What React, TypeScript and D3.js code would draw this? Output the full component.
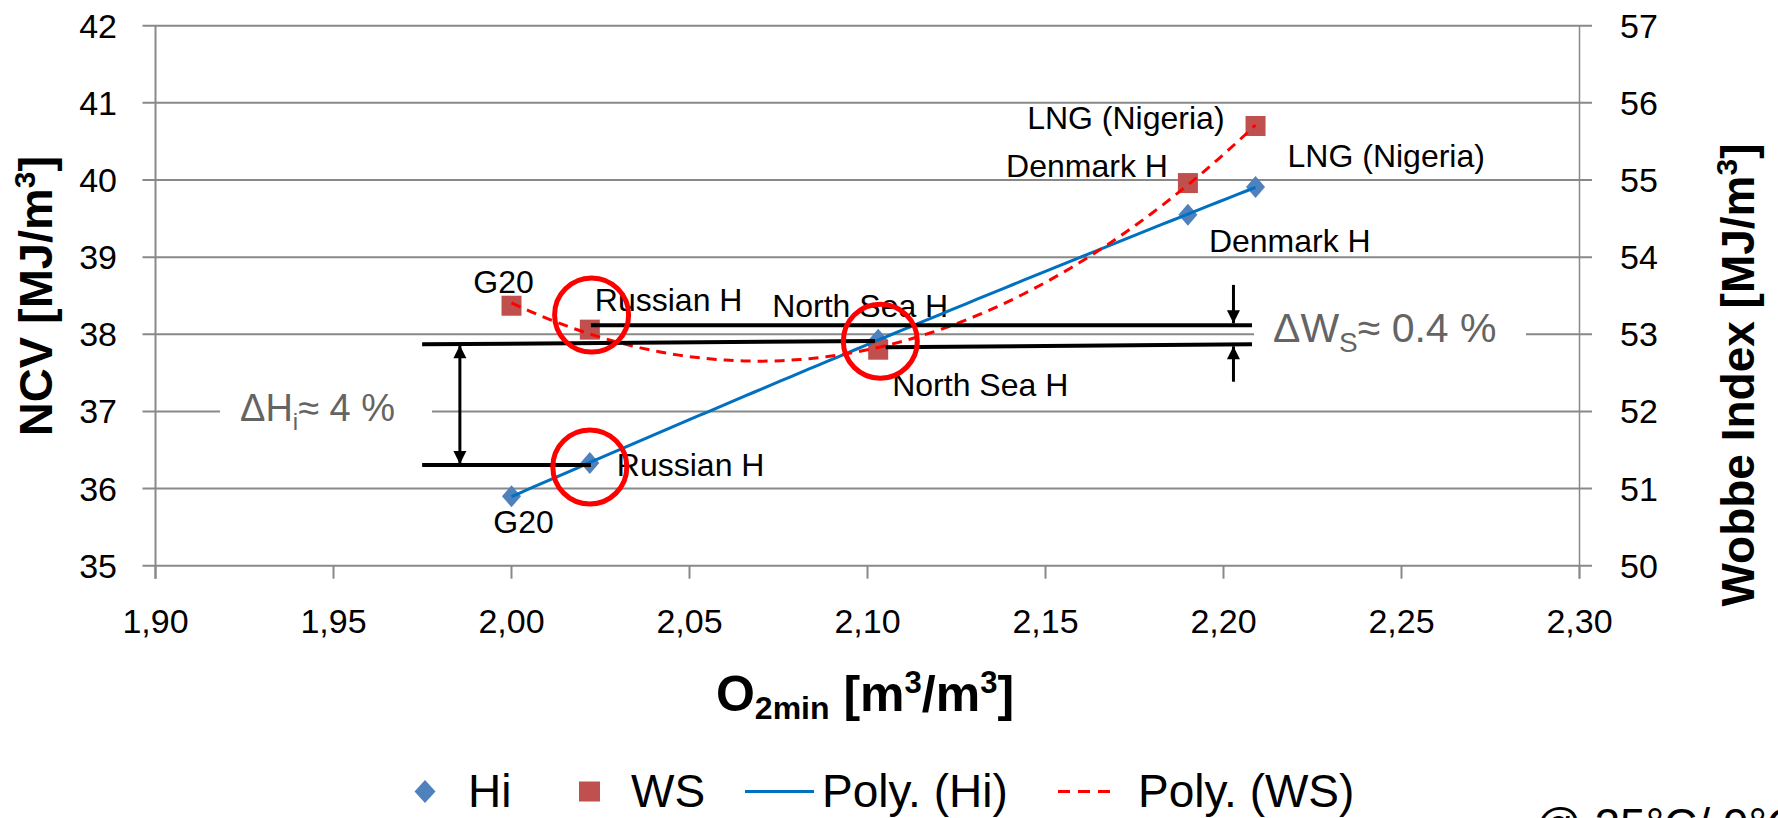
import React from "react";
import * as d3 from "d3";

// Natural gas qualities: minimum oxygen demand vs. NCV (Hi) and Wobbe index (WS)
const gasNames = ["G20", "Russian H", "North Sea H", "Denmark H", "LNG (Nigeria)"];
const o2minValues = [2.0, 2.022, 2.103, 2.19, 2.209];
const hiValues = [35.9, 36.33, 37.93, 39.55, 39.91];
const wsValues = [53.37, 53.06, 52.8, 54.96, 55.7];

const xTickValues = [1.9, 1.95, 2.0, 2.05, 2.1, 2.15, 2.2, 2.25, 2.3];
const ncvTickValues = [35, 36, 37, 38, 39, 40, 41, 42];
const wobbeTickValues = [50, 51, 52, 53, 54, 55, 56, 57];
const legendLabels = ["Hi", "WS", "Poly. (Hi)", "Poly. (WS)"];

// label placement relative to each marker (px)
const hiLabelLayout = [
  { dx: 12, dy: 37, anchor: "middle" },
  { dx: 27, dy: 13, anchor: "start" },
  { dx: -18, dy: -23, anchor: "middle" },
  { dx: 21, dy: 37, anchor: "start" },
  { dx: 32, dy: -20, anchor: "start" },
];
const wsLabelLayout = [
  { dx: -8, dy: -13, anchor: "middle" },
  { dx: 5, dy: -19, anchor: "start" },
  { dx: 14, dy: 46, anchor: "start" },
  { dx: -20, dy: -6, anchor: "end" },
  { dx: -31, dy: 3, anchor: "end" },
];

const W = 1778;
const H = 818;
const FONT = "'Liberation Sans', Arial, sans-serif";
const GRID = "#898989";
const BLUE_MARK = "#4F81BD";
const RED_MARK = "#C0504D";
const BLUE_TREND = "#0070C0";
const RED_TREND = "#FF0000";
const NOTE_GRAY = "#646464";

const x = d3.scaleLinear().domain([1.9, 2.3]).range([155.5, 1579.5]);
const yL = d3.scaleLinear().domain([35, 42]).range([565.7, 25.7]);
const yR = d3.scaleLinear().domain([50, 57]).range([565.7, 25.7]);

// least-squares polynomial of order 2 (Excel "Poly." trendline)
function quadFit(xs: number[], ys: number[]) {
  const mx = d3.mean(xs) as number;
  const u = xs.map((v) => v - mx);
  const n = xs.length;
  let s1 = 0, s2 = 0, s3 = 0, s4 = 0, t0 = 0, t1 = 0, t2 = 0;
  for (let i = 0; i < n; i++) {
    const a = u[i];
    s1 += a; s2 += a * a; s3 += a * a * a; s4 += a * a * a * a;
    t0 += ys[i]; t1 += a * ys[i]; t2 += a * a * ys[i];
  }
  const det = (m: number[][]) =>
    m[0][0] * (m[1][1] * m[2][2] - m[1][2] * m[2][1]) -
    m[0][1] * (m[1][0] * m[2][2] - m[1][2] * m[2][0]) +
    m[0][2] * (m[1][0] * m[2][1] - m[1][1] * m[2][0]);
  const M = [[s4, s3, s2], [s3, s2, s1], [s2, s1, n]];
  const R = [t2, t1, t0];
  const D = det(M);
  const col = (k: number) => M.map((row, i) => row.map((v, j) => (j === k ? R[i] : v)));
  const a = det(col(0)) / D;
  const b = det(col(1)) / D;
  const c = det(col(2)) / D;
  return (v: number) => a * (v - mx) * (v - mx) + b * (v - mx) + c;
}

const fitHi = quadFit(o2minValues, hiValues);
const fitWs = quadFit(o2minValues, wsValues);
const xMin = d3.min(o2minValues) as number;
const xMax = d3.max(o2minValues) as number;
const samples = d3.range(0, 81).map((i) => xMin + ((xMax - xMin) * i) / 80);
const hiTrend = d3.line<number>().x((v) => x(v)).y((v) => yL(fitHi(v)))(samples) || "";
const wsTrend = d3.line<number>().x((v) => x(v)).y((v) => yR(fitWs(v)))(samples) || "";

const diamond = (cx: number, cy: number, hw = 9.5, hh = 11) =>
  `M${cx},${cy - hh}L${cx + hw},${cy}L${cx},${cy + hh}L${cx - hw},${cy}Z`;

const fmt = (v: number) => v.toFixed(2).replace(".", ",");

// annotation geometry in data units (x: O2min, y: NCV)
const bracketLines = [
  { x1: 2.0223, y1: 38.116, x2: 2.208, y2: 38.116 },
  { x1: 1.9749, y1: 37.87, x2: 2.1021, y2: 37.913 },
  { x1: 2.1051, y1: 37.831, x2: 2.208, y2: 37.87 },
  { x1: 1.9749, y1: 36.305, x2: 2.0223, y2: 36.305 },
];
const circles = [
  { cx: 2.0225, cy: 38.25 },
  { cx: 2.1036, cy: 37.91 },
  { cx: 2.022, cy: 36.28 },
];

function Arrow({ x0, y0, x1, y1, head = 13, half = 6.5, both = false }: any) {
  const ang = Math.atan2(y1 - y0, x1 - x0);
  const tri = (tx: number, ty: number, a: number) => {
    const bx = tx - head * Math.cos(a);
    const by = ty - head * Math.sin(a);
    const px = -Math.sin(a) * half;
    const py = Math.cos(a) * half;
    return `M${tx},${ty}L${bx + px},${by + py}L${bx - px},${by - py}Z`;
  };
  return (
    <g>
      <line x1={x0} y1={y0} x2={x1} y2={y1} stroke="#000" strokeWidth={3} />
      <path d={tri(x1, y1, ang)} fill="#000" />
      {both && <path d={tri(x0, y0, ang + Math.PI)} fill="#000" />}
    </g>
  );
}

export default function App() {
  const top = yL(42);
  const bottom = yL(35);
  const left = x(1.9);
  const right = x(2.3);
  return (
    <svg
      width={W}
      height={H}
      style={{ position: "absolute", left: 0, top: 0, background: "#fff", overflow: "hidden" }}
      fontFamily={FONT}
    >
      <rect x={0} y={0} width={W} height={H} fill="#fff" />

      {/* gridlines with outward tick extensions */}
      {ncvTickValues.map((v) => (
        <line key={"g" + v} x1={left - 13} x2={right + 12.5} y1={yL(v)} y2={yL(v)} stroke={GRID} strokeWidth={2} />
      ))}
      <line x1={left} x2={left} y1={top} y2={bottom + 13} stroke={GRID} strokeWidth={2} />
      <line x1={right} x2={right} y1={top} y2={bottom + 13} stroke={GRID} strokeWidth={1.5} />
      {xTickValues.map((v) => (
        <line key={"xt" + v} x1={x(v)} x2={x(v)} y1={bottom} y2={bottom + 13} stroke={GRID} strokeWidth={2} />
      ))}

      {/* tick labels */}
      {ncvTickValues.map((v) => (
        <text key={"l" + v} x={117} y={yL(v) + 12} fontSize={34} textAnchor="end" fill="#000">
          {v}
        </text>
      ))}
      {wobbeTickValues.map((v) => (
        <text key={"r" + v} x={1620} y={yR(v) + 12} fontSize={34} textAnchor="start" fill="#000">
          {v}
        </text>
      ))}
      {xTickValues.map((v) => (
        <text key={"xl" + v} x={x(v)} y={633} fontSize={34} textAnchor="middle" fill="#000">
          {fmt(v)}
        </text>
      ))}

      {/* axis titles */}
      <text transform="translate(52,296) rotate(-90)" fontSize={47} fontWeight="bold" textAnchor="middle">
        NCV [MJ/m<tspan fontSize={30} dy={-17}>3</tspan>
        <tspan dy={17}>]</tspan>
      </text>
      <text transform="translate(1754,375) rotate(-90)" fontSize={46} fontWeight="bold" textAnchor="middle">
        Wobbe Index [MJ/m<tspan fontSize={30} dy={-17}>3</tspan>
        <tspan dy={17}>]</tspan>
      </text>
      <text x={865} y={711} fontSize={50} fontWeight="bold" textAnchor="middle">
        O<tspan fontSize={32} dy={8}>2min</tspan>
        <tspan dy={-8}> [m</tspan>
        <tspan fontSize={31} dy={-18}>3</tspan>
        <tspan dy={18}>/m</tspan>
        <tspan fontSize={31} dy={-18}>3</tspan>
        <tspan dy={18}>]</tspan>
      </text>

      {/* data labels */}
      {gasNames.map((g, i) => (
        <text
          key={"hl" + g}
          x={x(o2minValues[i]) + hiLabelLayout[i].dx}
          y={yL(hiValues[i]) + hiLabelLayout[i].dy}
          fontSize={32}
          textAnchor={hiLabelLayout[i].anchor as any}
          fill="#000"
        >
          {g}
        </text>
      ))}
      {gasNames.map((g, i) => (
        <text
          key={"wl" + g}
          x={x(o2minValues[i]) + wsLabelLayout[i].dx}
          y={yR(wsValues[i]) + wsLabelLayout[i].dy}
          fontSize={32}
          textAnchor={wsLabelLayout[i].anchor as any}
          fill="#000"
        >
          {g}
        </text>
      ))}

      {/* markers */}
      {o2minValues.map((v, i) => (
        <path key={"hd" + i} d={diamond(x(v), yL(hiValues[i]))} fill={BLUE_MARK} />
      ))}
      {o2minValues.map((v, i) => (
        <rect key={"ws" + i} x={x(v) - 10} y={yR(wsValues[i]) - 10} width={20} height={20} fill={RED_MARK} />
      ))}

      {/* polynomial trendlines */}
      <path d={hiTrend} fill="none" stroke={BLUE_TREND} strokeWidth={3} />
      <path d={wsTrend} fill="none" stroke={RED_TREND} strokeWidth={3} strokeDasharray="10,7" />

      {/* Δ annotations */}
      <rect x={220} y={385} width={212} height={55} fill="#fff" />
      <text x={240} y={420.5} fontSize={38} fill={NOTE_GRAY}>
        ΔH<tspan fontSize={24} dy={9}>i</tspan>
        <tspan dy={-9}>≈ 4 %</tspan>
      </text>
      <rect x={1254} y={300} width={272} height={60} fill="#fff" />
      <text x={1273} y={341.5} fontSize={41} fill={NOTE_GRAY}>
        ΔW<tspan fontSize={28} dy={10}>S</tspan>
        <tspan dy={-10}>≈ 0.4 %</tspan>
      </text>

      {bracketLines.map((l, i) => (
        <line key={"bl" + i} x1={x(l.x1)} y1={yL(l.y1)} x2={x(l.x2)} y2={yL(l.y2)} stroke="#000" strokeWidth={4} />
      ))}
      <Arrow x0={x(1.9855)} y0={yL(37.87) + 1} x1={x(1.9855)} y1={yL(36.305) - 1} both />
      <Arrow x0={x(2.2028)} y0={yL(38.64)} x1={x(2.2028)} y1={yL(38.116) - 2} />
      <Arrow x0={x(2.2028)} y0={yL(37.385)} x1={x(2.2028)} y1={yL(37.87) + 2} />

      {circles.map((c, i) => (
        <ellipse key={"c" + i} cx={x(c.cx)} cy={yL(c.cy)} rx={37} ry={37} fill="none" stroke="#FF0000" strokeWidth={5} />
      ))}

      {/* legend */}
      <path d={diamond(425, 791.5, 10.5, 11.5)} fill={BLUE_MARK} />
      <text x={468} y={806.5} fontSize={46}>{legendLabels[0]}</text>
      <rect x={579} y={781.5} width={21} height={20} fill={RED_MARK} />
      <text x={631} y={806.5} fontSize={46}>{legendLabels[1]}</text>
      <line x1={745} x2={814} y1={791.5} y2={791.5} stroke={BLUE_TREND} strokeWidth={3} />
      <text x={822} y={806.5} fontSize={46}>{legendLabels[2]}</text>
      <line x1={1058} x2={1116} y1={791.5} y2={791.5} stroke={RED_TREND} strokeWidth={3} strokeDasharray="12,8" />
      <text x={1138} y={806.5} fontSize={46}>{legendLabels[3]}</text>

      <text x={1535} y={841} fontSize={46}>@ 25°C/ 0°C</text>
    </svg>
  );
}
